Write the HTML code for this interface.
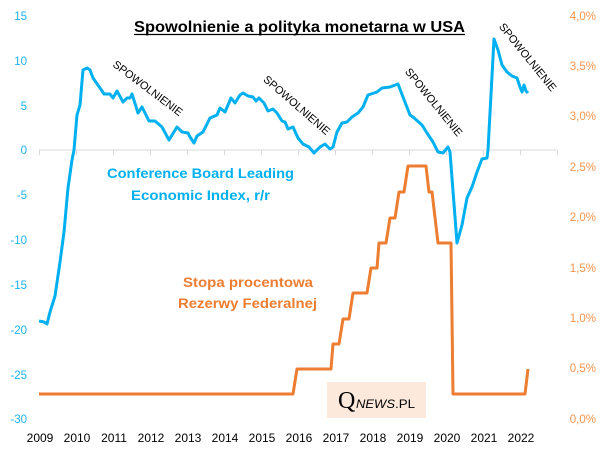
<!DOCTYPE html>
<html><head><meta charset="utf-8"><style>
html,body{margin:0;padding:0;background:#fff;}
svg{display:block;}
text{font-family:"Liberation Sans",Arial,sans-serif;}
</style></head><body>
<svg width="605" height="454" viewBox="0 0 605 454" xmlns="http://www.w3.org/2000/svg">
<rect width="605" height="454" fill="#fff"/>
<!-- title -->
<text x="134" y="32" font-size="16" font-weight="bold" fill="#000" textLength="331" lengthAdjust="spacingAndGlyphs">Spowolnienie a polityka monetarna w USA</text>
<line x1="134" y1="34.5" x2="465" y2="34.5" stroke="#000" stroke-width="1.2"/>
<!-- zero gridline + ticks -->
<line x1="39" y1="150" x2="557" y2="150" stroke="#d9d9d9" stroke-width="1"/>
<g stroke="#d9d9d9" stroke-width="1">
<line x1="39.5" y1="150" x2="39.5" y2="155"/><line x1="76.5" y1="150" x2="76.5" y2="155"/><line x1="113.5" y1="150" x2="113.5" y2="155"/><line x1="150.5" y1="150" x2="150.5" y2="155"/><line x1="187.5" y1="150" x2="187.5" y2="155"/><line x1="224.5" y1="150" x2="224.5" y2="155"/><line x1="261.5" y1="150" x2="261.5" y2="155"/><line x1="298.5" y1="150" x2="298.5" y2="155"/><line x1="335.5" y1="150" x2="335.5" y2="155"/><line x1="372.5" y1="150" x2="372.5" y2="155"/><line x1="409.5" y1="150" x2="409.5" y2="155"/><line x1="446.5" y1="150" x2="446.5" y2="155"/><line x1="483.5" y1="150" x2="483.5" y2="155"/><line x1="520.5" y1="150" x2="520.5" y2="155"/><line x1="557.5" y1="150" x2="557.5" y2="155"/>
</g>
<!-- left axis labels -->
<g font-size="11.5" fill="#1fb1ee" text-anchor="end">
<text x="27" y="20">15</text><text x="27" y="65">10</text><text x="27" y="110">5</text><text x="27" y="154">0</text><text x="27" y="199">-5</text><text x="27" y="244">-10</text><text x="27" y="289">-15</text><text x="27" y="334">-20</text><text x="27" y="379">-25</text><text x="27" y="423">-30</text>
</g>
<!-- right axis labels -->
<g font-size="11.5" fill="#f29550" text-anchor="end">
<text x="596" y="20">4,0%</text><text x="596" y="70">3,5%</text><text x="596" y="120">3,0%</text><text x="596" y="171">2,5%</text><text x="596" y="221">2,0%</text><text x="596" y="272">1,5%</text><text x="596" y="322">1,0%</text><text x="596" y="372">0,5%</text><text x="596" y="423">0,0%</text>
</g>
<!-- x labels -->
<g font-size="12" fill="#000" text-anchor="middle">
<text x="40" y="442">2009</text><text x="77" y="442">2010</text><text x="114" y="442">2011</text><text x="151" y="442">2012</text><text x="188" y="442">2013</text><text x="225" y="442">2014</text><text x="262" y="442">2015</text><text x="299" y="442">2016</text><text x="336" y="442">2017</text><text x="373" y="442">2018</text><text x="410" y="442">2019</text><text x="447" y="442">2020</text><text x="484" y="442">2021</text><text x="521" y="442">2022</text>
</g>
<!-- orange series -->
<polyline fill="none" stroke="#ed7d31" stroke-width="3" stroke-linejoin="round" points="39,394 293,394 297,369 331,369 333,344 339,344 343,319 349,319 353,293 367,293 371,268 377,268 379,243 386,243 390,218 395,218 399,192 404,192 408,166 426,166 429,192 432,192 438,243 451,243 453,394 525,394 528,369"/>
<!-- blue series -->
<polyline fill="none" stroke="#00b0f0" stroke-width="3" stroke-linejoin="round" points="39,321 44,322 47,324 50,312 55,296 60,262 64,232 68,188 72,160 74,150 77,115 80,105 83,70 87,68 90,70 93,78 100,88 104,94 110,94 113,98 117,91 123,102 127,98 130,98 132,94 138,113 142,107 149,121 155,121 162,127 169,140 177,127 182,132 188,133 190,137 194,143 197,136 203,132 210,118 217,115 220,108 225,112 231,98 235,103 240,95 243,93 248,96 253,97 256,101 259,98 264,103 268,111 273,109 277,113 282,121 285,122 288,129 293,127 298,138 303,144 309,147 314,153 320,147 325,144 330,149 333,147 337,132 342,123 347,122 352,117 358,113 363,107 368,95 377,92 382,88 390,87 398,84 403,97 410,115 413,117 422,125 427,133 433,142 438,152 443,153 448,147 450,152 457,243 462,225 467,198 472,187 477,172 482,159 487,158 488,150 494,39 498,50 502,65 507,72 512,76 517,78 520,87 522,92 524,85 526,91 528,93"/>
<!-- series labels -->
<text x="107" y="178" font-size="14" font-weight="bold" fill="#00b0f0" textLength="187" lengthAdjust="spacingAndGlyphs">Conference Board Leading</text>
<text x="131" y="200" font-size="14" font-weight="bold" fill="#00b0f0" textLength="139" lengthAdjust="spacingAndGlyphs">Economic  Index, r/r</text>
<text x="183" y="287" font-size="14" font-weight="bold" fill="#ed7d31" textLength="130" lengthAdjust="spacingAndGlyphs">Stopa procentowa</text>
<text x="178" y="308" font-size="14" font-weight="bold" fill="#ed7d31" textLength="139" lengthAdjust="spacingAndGlyphs">Rezerwy Federalnej</text>
<!-- SPOWOLNIENIE annotations -->
<g font-size="11" fill="#000" text-anchor="middle">
<text transform="translate(148,88) rotate(37)" y="4" textLength="84" lengthAdjust="spacingAndGlyphs">SPOWOLNIENIE</text>
<text transform="translate(297,105) rotate(41)" y="4" textLength="84" lengthAdjust="spacingAndGlyphs">SPOWOLNIENIE</text>
<text transform="translate(434,102) rotate(51)" y="4" textLength="84" lengthAdjust="spacingAndGlyphs">SPOWOLNIENIE</text>
<text transform="translate(528,57) rotate(51)" y="4" textLength="84" lengthAdjust="spacingAndGlyphs">SPOWOLNIENIE</text>
</g>
<!-- logo -->
<rect x="327" y="382" width="99" height="36" fill="#fce9db"/>
<text x="338" y="408" font-size="24" fill="#000" style="font-family:'Liberation Serif',serif">Q</text>
<text x="356" y="408" font-size="12" font-style="italic" fill="#000" textLength="39" lengthAdjust="spacingAndGlyphs">NEWS</text>
<text x="395" y="408" font-size="12" fill="#000" textLength="20" lengthAdjust="spacingAndGlyphs">.PL</text>
</svg>
</body></html>
